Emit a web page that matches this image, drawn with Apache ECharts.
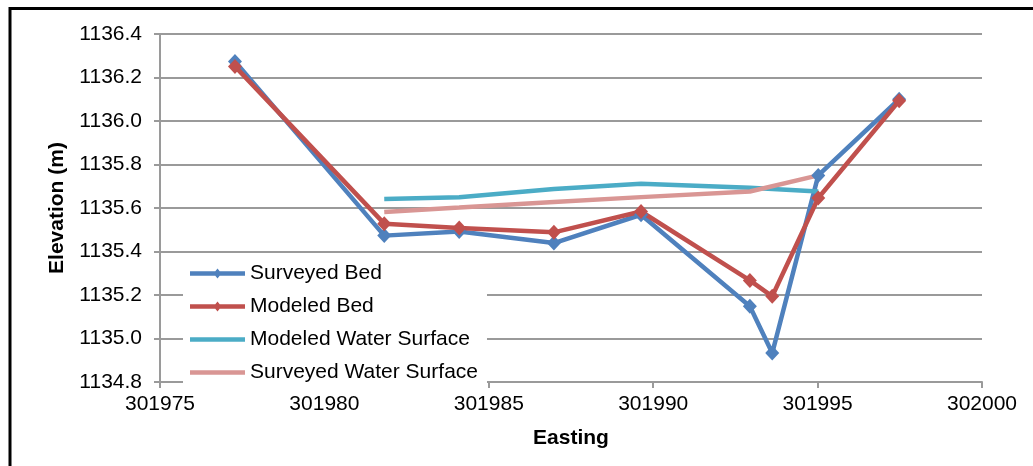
<!DOCTYPE html>
<html>
<head>
<meta charset="utf-8">
<script src="https://cdn.jsdelivr.net/npm/echarts@6/dist/echarts.min.js"></script>
<style>
  html, body { margin: 0; padding: 0; background: #fff; }
  #chart { width: 1033px; height: 466px; }
</style>
</head>
<body>
<div id="chart"></div>
<script>
// Cross-section: easting of each station and bed / water elevations (m)
const bedEasting = [301977.28, 301981.82, 301984.10, 301986.98, 301989.63, 301992.94, 301993.62, 301995.02, 301997.48];
const surveyedBed = [1136.274, 1135.473, 1135.492, 1135.439, 1135.569, 1135.148, 1134.933, 1135.750, 1136.100];
const modeledBed = [1136.251, 1135.528, 1135.508, 1135.488, 1135.584, 1135.267, 1135.194, 1135.646, 1136.093];

const wsEasting = [301981.82, 301984.10, 301986.98, 301989.63, 301992.94, 301995.02];
const modeledWS = [1135.641, 1135.649, 1135.687, 1135.712, 1135.693, 1135.676];
const surveyedWS = [1135.582, 1135.602, 1135.628, 1135.650, 1135.676, 1135.750];

const seriesNames = ['Surveyed Bed', 'Modeled Bed', 'Modeled Water Surface', 'Surveyed Water Surface'];
const xTicks = { min: 301975, max: 302000, step: 5 };
const yTicks = { min: 1134.8, max: 1136.4, step: 0.2 };

const pair = (xs, ys) => xs.map((x, i) => [x, ys[i]]);

const FONT = 'Liberation Sans, Arial, sans-serif';
const GRID_GREY = '#9a9a9a';

// Legend keys: a thick line, with a small diamond for the bed series
const ICON_LINE_DIAMOND = 'path://M0,2.75 L25.3,2.75 L27.5,0 L29.7,2.75 L55,2.75 L55,7.25 L29.7,7.25 L27.5,10 L25.3,7.25 L0,7.25 Z';
const ICON_LINE = 'path://M0,0 L55,0 L55,4.5 L0,4.5 Z';

const chart = echarts.init(document.getElementById('chart'), null, { renderer: 'canvas' });

function lineSeries(name, data, color, withMarker) {
  return {
    name: name,
    type: 'line',
    data: data,
    symbol: withMarker ? 'diamond' : 'none',
    symbolSize: withMarker ? [14, 15] : 0,
    showSymbol: withMarker,
    lineStyle: { color: color, width: 4.5 },
    itemStyle: { color: color },
    emphasis: { disabled: true }
  };
}

chart.setOption({
  animation: false,
  backgroundColor: '#fff',
  textStyle: { fontFamily: FONT },
  grid: { left: 160, top: 34, width: 822, height: 348, containLabel: false },
  xAxis: {
    type: 'value',
    min: xTicks.min, max: xTicks.max, interval: xTicks.step,
    name: 'Easting',
    nameLocation: 'middle',
    nameGap: 46,
    nameTextStyle: { fontFamily: FONT, fontSize: 21, fontWeight: 'bold', color: '#000' },
    axisLine: { show: true, lineStyle: { color: GRID_GREY, width: 2 } },
    axisTick: { show: true, inside: false, length: 6, lineStyle: { color: GRID_GREY, width: 2 } },
    axisLabel: { fontFamily: FONT, fontSize: 21, color: '#000', margin: 12, formatter: v => String(v) },
    splitLine: { show: false }
  },
  yAxis: {
    type: 'value',
    min: yTicks.min, max: yTicks.max, interval: yTicks.step,
    name: 'Elevation (m)',
    nameLocation: 'middle',
    nameGap: 92,
    nameRotate: 90,
    nameTextStyle: { fontFamily: FONT, fontSize: 21, fontWeight: 'bold', color: '#000' },
    axisLine: { show: true, lineStyle: { color: GRID_GREY, width: 2 } },
    axisTick: { show: true, inside: false, length: 6, lineStyle: { color: GRID_GREY, width: 2 } },
    axisLabel: {
      fontFamily: FONT, fontSize: 21, color: '#000', margin: 18,
      formatter: v => v.toFixed(1)
    },
    splitLine: { show: true, lineStyle: { color: GRID_GREY, width: 2 } }
  },
  legend: {
    data: [
      { name: seriesNames[0], icon: ICON_LINE_DIAMOND },
      { name: seriesNames[1], icon: ICON_LINE_DIAMOND },
      { name: seriesNames[2], icon: ICON_LINE },
      { name: seriesNames[3], icon: ICON_LINE }
    ],
    orient: 'vertical',
    left: 183,
    top: 255,
    padding: [8, 9, 7, 7],
    itemGap: 12,
    itemWidth: 55,
    itemHeight: 10,
    symbolKeepAspect: true,
    backgroundColor: '#fff',
    z: 10,
    selectedMode: false,
    textStyle: { fontFamily: FONT, fontSize: 21, color: '#000', lineHeight: 20 }
  },
  series: [
    lineSeries(seriesNames[0], pair(bedEasting, surveyedBed), '#4F81BD', true),
    lineSeries(seriesNames[1], pair(bedEasting, modeledBed), '#C0504D', true),
    lineSeries(seriesNames[2], pair(wsEasting, modeledWS), '#4BACC6', false),
    lineSeries(seriesNames[3], pair(wsEasting, surveyedWS), '#D99694', false)
  ],
  graphic: [{
    type: 'polyline',
    shape: { points: [[10, 466], [10, 8.5], [1033, 8.5]] },
    style: { stroke: '#000', lineWidth: 3, fill: null },
    silent: true,
    z: 100
  }]
});
</script>
</body>
</html>
